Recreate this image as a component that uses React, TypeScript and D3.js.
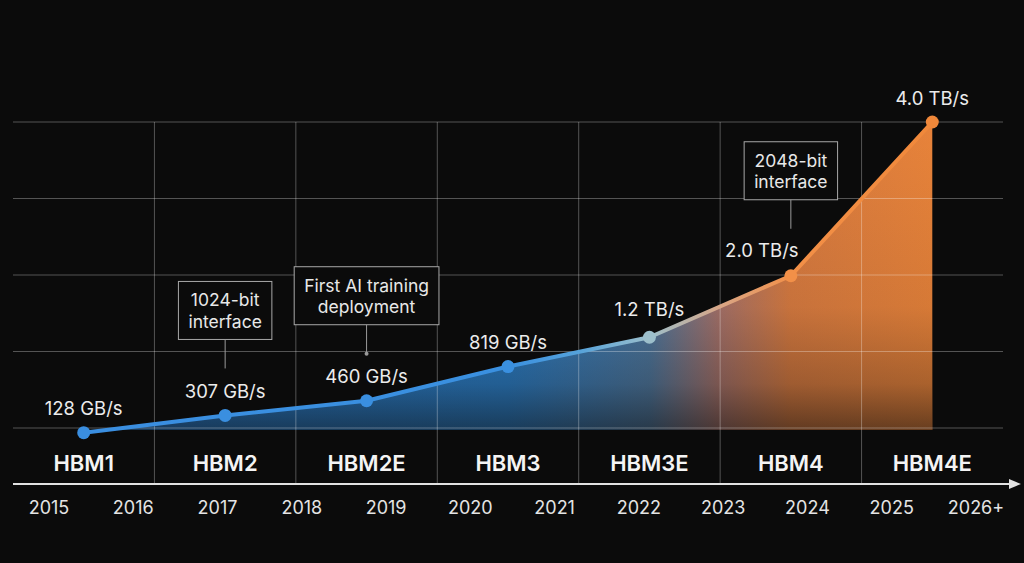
import React, { useRef, useEffect } from 'react';
import * as d3 from 'd3';

const generations = ['HBM1', 'HBM2', 'HBM2E', 'HBM3', 'HBM3E', 'HBM4', 'HBM4E'];
const bandwidthGBs = [128, 307, 460, 819, 1200, 2000, 4000];
const bandwidthLabels = ['128 GB/s', '307 GB/s', '460 GB/s', '819 GB/s', '1.2 TB/s', '2.0 TB/s', '4.0 TB/s'];
const years = ['2015', '2016', '2017', '2018', '2019', '2020', '2021', '2022', '2023', '2024', '2025', '2026+'];
const callouts = [
  { generation: 'HBM2', lines: ['1024-bit', 'interface'] },
  { generation: 'HBM2E', lines: ['First AI training', 'deployment'] },
  { generation: 'HBM4', lines: ['2048-bit', 'interface'] },
];

const WIDTH = 1024;
const HEIGHT = 563;
const FONT = 'Inter, "Noto Sans", sans-serif';

export default function App() {
  const svgRef = useRef<SVGSVGElement>(null);

  useEffect(() => {
    if (!svgRef.current) return;
    const svg = d3.select(svgRef.current);
    svg.selectAll('*').remove();

    const left = 13;
    const right = 1003;
    const gridTop = 122;
    const gridBottom = 428;
    const areaBase = 430;
    const axisY = 484;

    const x = d3.scaleBand<string>().domain(generations).range([left, right]);
    const cx = (g: string) => (x(g) ?? 0) + x.bandwidth() / 2;
    // two-segment scale: the early generations are spread out a little
    const y = d3.scaleLinear().domain([0, 800, 4000]).range([445, 368, gridTop]);
    const yearX = d3.scalePoint<string>().domain(years).range([49, 976]);

    const pts = generations.map((g, i) => ({ g, v: bandwidthGBs[i], label: bandwidthLabels[i], px: cx(g), py: y(bandwidthGBs[i]) }));

    svg.append('rect').attr('width', WIDTH).attr('height', HEIGHT).attr('fill', '#0b0b0b');

    const defs = svg.append('defs');
    const x0 = cx('HBM1');
    const x1 = cx('HBM4E');
    const off = (g: string) => (cx(g) - x0) / (x1 - x0);
    const mid = (a: string, b: string) => (off(a) + off(b)) / 2;

    const areaGrad = defs.append('linearGradient').attr('id', 'areaFill')
      .attr('gradientUnits', 'userSpaceOnUse').attr('x1', x0).attr('x2', x1).attr('y1', 0).attr('y2', 0);
    [
      [0, '#2a7ccc'],
      [off('HBM3'), '#2c7fc8'],
      [off('HBM3E'), '#5079a0'],
      [mid('HBM3E', 'HBM4'), '#a8736a'],
      [off('HBM4'), '#d87b40'],
      [1, '#e8833a'],
    ].forEach(([o, c]) => areaGrad.append('stop').attr('offset', o as number).attr('stop-color', c as string));

    const shade = defs.append('linearGradient').attr('id', 'areaShade')
      .attr('gradientUnits', 'userSpaceOnUse').attr('x1', 0).attr('x2', 0).attr('y1', gridTop).attr('y2', areaBase);
    [
      [0, 0],
      [0.6, 0.08],
      [0.85, 0.28],
      [1, 0.58],
    ].forEach(([o, a]) => shade.append('stop').attr('offset', o).attr('stop-color', '#0b0b0b').attr('stop-opacity', a));

    const lineStops: [number, string][] = [
      [0, '#3a8ee0'],
      [off('HBM3'), '#3a90e0'],
      [mid('HBM3', 'HBM3E'), '#55a2da'],
      [off('HBM3E'), '#9cbfcb'],
      [mid('HBM3E', 'HBM4'), '#d9a686'],
      [off('HBM4'), '#f29048'],
      [1, '#f0883a'],
    ];
    const lineGrad = defs.append('linearGradient').attr('id', 'lineStroke')
      .attr('gradientUnits', 'userSpaceOnUse').attr('x1', x0).attr('x2', x1).attr('y1', 0).attr('y2', 0);
    lineStops.forEach(([o, c]) => lineGrad.append('stop').attr('offset', o).attr('stop-color', c));
    const dotColor = d3.scaleLinear<string>()
      .domain(lineStops.map(([o]) => x0 + o * (x1 - x0)))
      .range(lineStops.map(([, c]) => c))
      .interpolate(d3.interpolateRgb);

    // Filled area under the bandwidth curve
    const area = d3.area<typeof pts[0]>().x((d) => d.px).y0(areaBase).y1((d) => d.py);
    svg.append('path').datum(pts).attr('d', area).attr('fill', 'url(#areaFill)');
    svg.append('path').datum(pts).attr('d', area).attr('fill', 'url(#areaShade)');

    // Grid
    const grid = svg.append('g').attr('stroke', '#ffffff').attr('stroke-opacity', 0.3).attr('stroke-width', 1);
    d3.range(5).forEach((i) => {
      const gy = gridTop + (i * (gridBottom - gridTop)) / 4;
      grid.append('line').attr('x1', left).attr('x2', right).attr('y1', gy).attr('y2', gy);
    });
    generations.slice(1).forEach((g) => {
      const gx = x(g) ?? 0;
      grid.append('line').attr('x1', gx).attr('x2', gx).attr('y1', gridTop).attr('y2', axisY);
    });

    // Time axis with arrow
    svg.append('line').attr('x1', left).attr('x2', 1012).attr('y1', axisY).attr('y2', axisY)
      .attr('stroke', '#e2e2e2').attr('stroke-width', 2);
    svg.append('path').attr('d', `M1009,${axisY - 5}L1021,${axisY}L1009,${axisY + 5}Z`).attr('fill', '#e2e2e2');

    svg.append('g').selectAll('text').data(years).enter().append('text')
      .attr('x', (d) => yearX(d) ?? 0).attr('y', 514)
      .attr('text-anchor', 'middle').attr('fill', '#e4e4e4')
      .attr('font-family', FONT).attr('font-size', 18)
      .text((d) => d);

    svg.append('g').selectAll('text').data(generations).enter().append('text')
      .attr('x', (d) => cx(d)).attr('y', 470.5)
      .attr('text-anchor', 'middle').attr('fill', '#f4f4f4')
      .attr('font-family', FONT).attr('font-size', 22).attr('font-weight', 600)
      .text((d) => d);

    // Line and markers
    const line = d3.line<typeof pts[0]>().x((d) => d.px).y((d) => d.py);
    svg.append('path').datum(pts).attr('d', line)
      .attr('fill', 'none').attr('stroke', 'url(#lineStroke)').attr('stroke-width', 4)
      .attr('stroke-linejoin', 'round');
    svg.append('g').selectAll('circle').data(pts).enter().append('circle')
      .attr('cx', (d) => d.px).attr('cy', (d) => d.py).attr('r', 6.5)
      .attr('fill', (d) => dotColor(d.px));

    // Value labels
    const shift: Record<string, [number, number]> = { HBM3E: [0, -21], HBM4: [-29, -19] };
    svg.append('g').selectAll('text').data(pts).enter().append('text')
      .attr('x', (d) => d.px + (shift[d.g]?.[0] ?? 0))
      .attr('y', (d) => d.py + (shift[d.g]?.[1] ?? -17.5))
      .attr('text-anchor', 'middle').attr('fill', '#ececec')
      .attr('font-family', FONT).attr('font-size', 18.5)
      .text((d) => d.label);

    // Callout boxes
    callouts.forEach((c) => {
      const p = pts.find((d) => d.g === c.generation)!;
      const boxBottom = p.py - 76;
      const boxH = 58;
      const top = boxBottom - boxH;
      const g = svg.append('g');
      const rect = g.append('rect').attr('y', top).attr('height', boxH)
        .attr('fill', '#0b0b0b').attr('stroke', '#a8a8a8').attr('stroke-width', 1);
      const texts = c.lines.map((t, i) => g.append('text')
        .attr('x', p.px).attr('y', top + 25 + i * 21.5)
        .attr('text-anchor', 'middle').attr('fill', '#e8e8e8')
        .attr('font-family', FONT).attr('font-size', 17.5)
        .text(t));
      const tw = d3.max(texts, (t) => (t.node() as SVGTextElement).getComputedTextLength()) ?? 80;
      const bw = tw + 20;
      rect.attr('x', p.px - bw / 2).attr('width', bw);
      g.append('line').attr('x1', p.px).attr('x2', p.px).attr('y1', boxBottom).attr('y2', boxBottom + 29)
        .attr('stroke', '#9a9a9a').attr('stroke-width', 1);
      if (c.generation === 'HBM2E') {
        g.append('circle').attr('cx', p.px).attr('cy', boxBottom + 29).attr('r', 2).attr('fill', '#9a9a9a');
      }
    });
  }, []);

  return (
    <svg
      ref={svgRef}
      width={WIDTH}
      height={HEIGHT}
      style={{ position: 'absolute', left: 0, top: 0, display: 'block' }}
    />
  );
}
